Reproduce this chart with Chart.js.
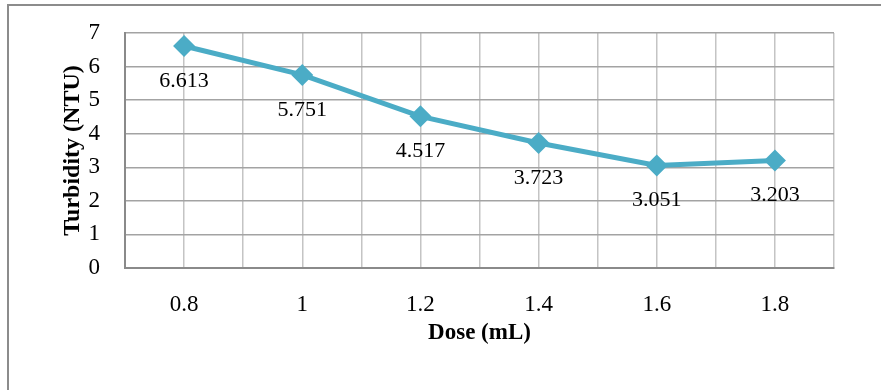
<!DOCTYPE html>
<html>
<head>
<meta charset="utf-8">
<script src="https://cdn.jsdelivr.net/npm/chart.js@4/dist/chart.umd.min.js"></script>
<style>
  html, body { margin: 0; padding: 0; background: #ffffff; }
  #wrap { width: 881px; height: 390px; position: relative; }
</style>
</head>
<body>
<div id="wrap"><canvas id="c" width="881" height="390"></canvas></div>
<script>
// Coagulant dose vs. residual turbidity
const doses = [0.8, 1.0, 1.2, 1.4, 1.6, 1.8];
const turbidity = [6.613, 5.751, 4.517, 3.723, 3.051, 3.203];
const doseTickLabels = ['0.8', '1', '1.2', '1.4', '1.6', '1.8'];
const turbidityTicks = [0, 1, 2, 3, 4, 5, 6, 7];

const serif = "'Liberation Serif', 'Times New Roman', serif";
const lineColor = '#4BACC6';

// Frame around the whole figure (top and left edges are visible)
const framePlugin = {
  id: 'frame',
  beforeDraw(chart) {
    const ctx = chart.ctx;
    ctx.save();
    ctx.fillStyle = '#ffffff';
    ctx.fillRect(0, 0, chart.width, chart.height);
    ctx.strokeStyle = '#8c8c8c';
    ctx.lineWidth = 2;
    ctx.beginPath();
    ctx.moveTo(8, chart.height + 2);
    ctx.lineTo(8, 5);
    ctx.lineTo(chart.width + 2, 5);
    ctx.stroke();
    ctx.restore();
  }
};

// Value labels printed below every marker
const valueLabelPlugin = {
  id: 'valueLabels',
  afterDatasetsDraw(chart) {
    const ctx = chart.ctx;
    const meta = chart.getDatasetMeta(0);
    ctx.save();
    ctx.font = '22px ' + serif;
    ctx.fillStyle = '#000000';
    ctx.textAlign = 'center';
    ctx.textBaseline = 'middle';
    meta.data.forEach((pt, i) => {
      ctx.fillText(turbidity[i].toFixed(3), pt.x, pt.y + 35);
    });
    ctx.restore();
  }
};

new Chart(document.getElementById('c'), {
  type: 'line',
  data: {
    datasets: [{
      data: doses.map((d, i) => ({ x: d, y: turbidity[i] })),
      borderColor: lineColor,
      backgroundColor: lineColor,
      borderWidth: 5,
      tension: 0,
      pointStyle: 'rectRot',
      pointRadius: 11,
      pointHoverRadius: 11,
      pointBackgroundColor: lineColor,
      pointBorderColor: lineColor,
      pointBorderWidth: 0
    }]
  },
  options: {
    responsive: false,
    animation: false,
    layout: { padding: { left: 0, top: 33, right: 47, bottom: 0 } },
    plugins: {
      legend: { display: false },
      tooltip: { enabled: false }
    },
    scales: {
      x: {
        type: 'linear',
        min: 0.7,
        max: 1.9,
        afterFit(scale) {
          scale.height = 122;
          scale.paddingLeft = 0;
          scale.paddingRight = 0;
        },
        afterBuildTicks(scale) {
          const t = [];
          for (let k = 7; k <= 19; k++) t.push({ value: k / 10 });
          scale.ticks = t;
        },
        ticks: {
          padding: 23,
          maxRotation: 0,
          autoSkip: false,
          color: '#000000',
          font: { family: serif, size: 23 },
          callback(v) {
            const i = doses.findIndex(d => Math.abs(d - v) < 1e-6);
            return i >= 0 ? doseTickLabels[i] : '';
          }
        },
        grid: { color: '#c4c4c4', lineWidth: 1.5, drawTicks: false },
        border: { color: '#8a8a8a', width: 2 },
        title: {
          display: true,
          text: 'Dose (mL)',
          color: '#000000',
          font: { family: serif, size: 23, weight: 'bold' },
          padding: { top: 0, bottom: 43 }
        }
      },
      y: {
        min: 0,
        max: 7,
        afterFit(scale) {
          scale.width = 125;
          scale.paddingTop = 0;
          scale.paddingBottom = 0;
        },
        afterBuildTicks(scale) {
          scale.ticks = turbidityTicks.map(v => ({ value: v }));
        },
        ticks: {
          padding: 25,
          color: '#000000',
          font: { family: serif, size: 23 },
          callback(v) { return String(v); }
        },
        grid: { color: '#a3a3a3', lineWidth: 1.5, drawTicks: false },
        border: { color: '#8a8a8a', width: 2 },
        title: {
          display: true,
          text: 'Turbidity (NTU)',
          color: '#000000',
          font: { family: serif, size: 24, weight: 'bold' },
          padding: { top: 58, bottom: 0 }
        }
      }
    }
  },
  plugins: [framePlugin, valueLabelPlugin]
});
</script>
</body>
</html>
